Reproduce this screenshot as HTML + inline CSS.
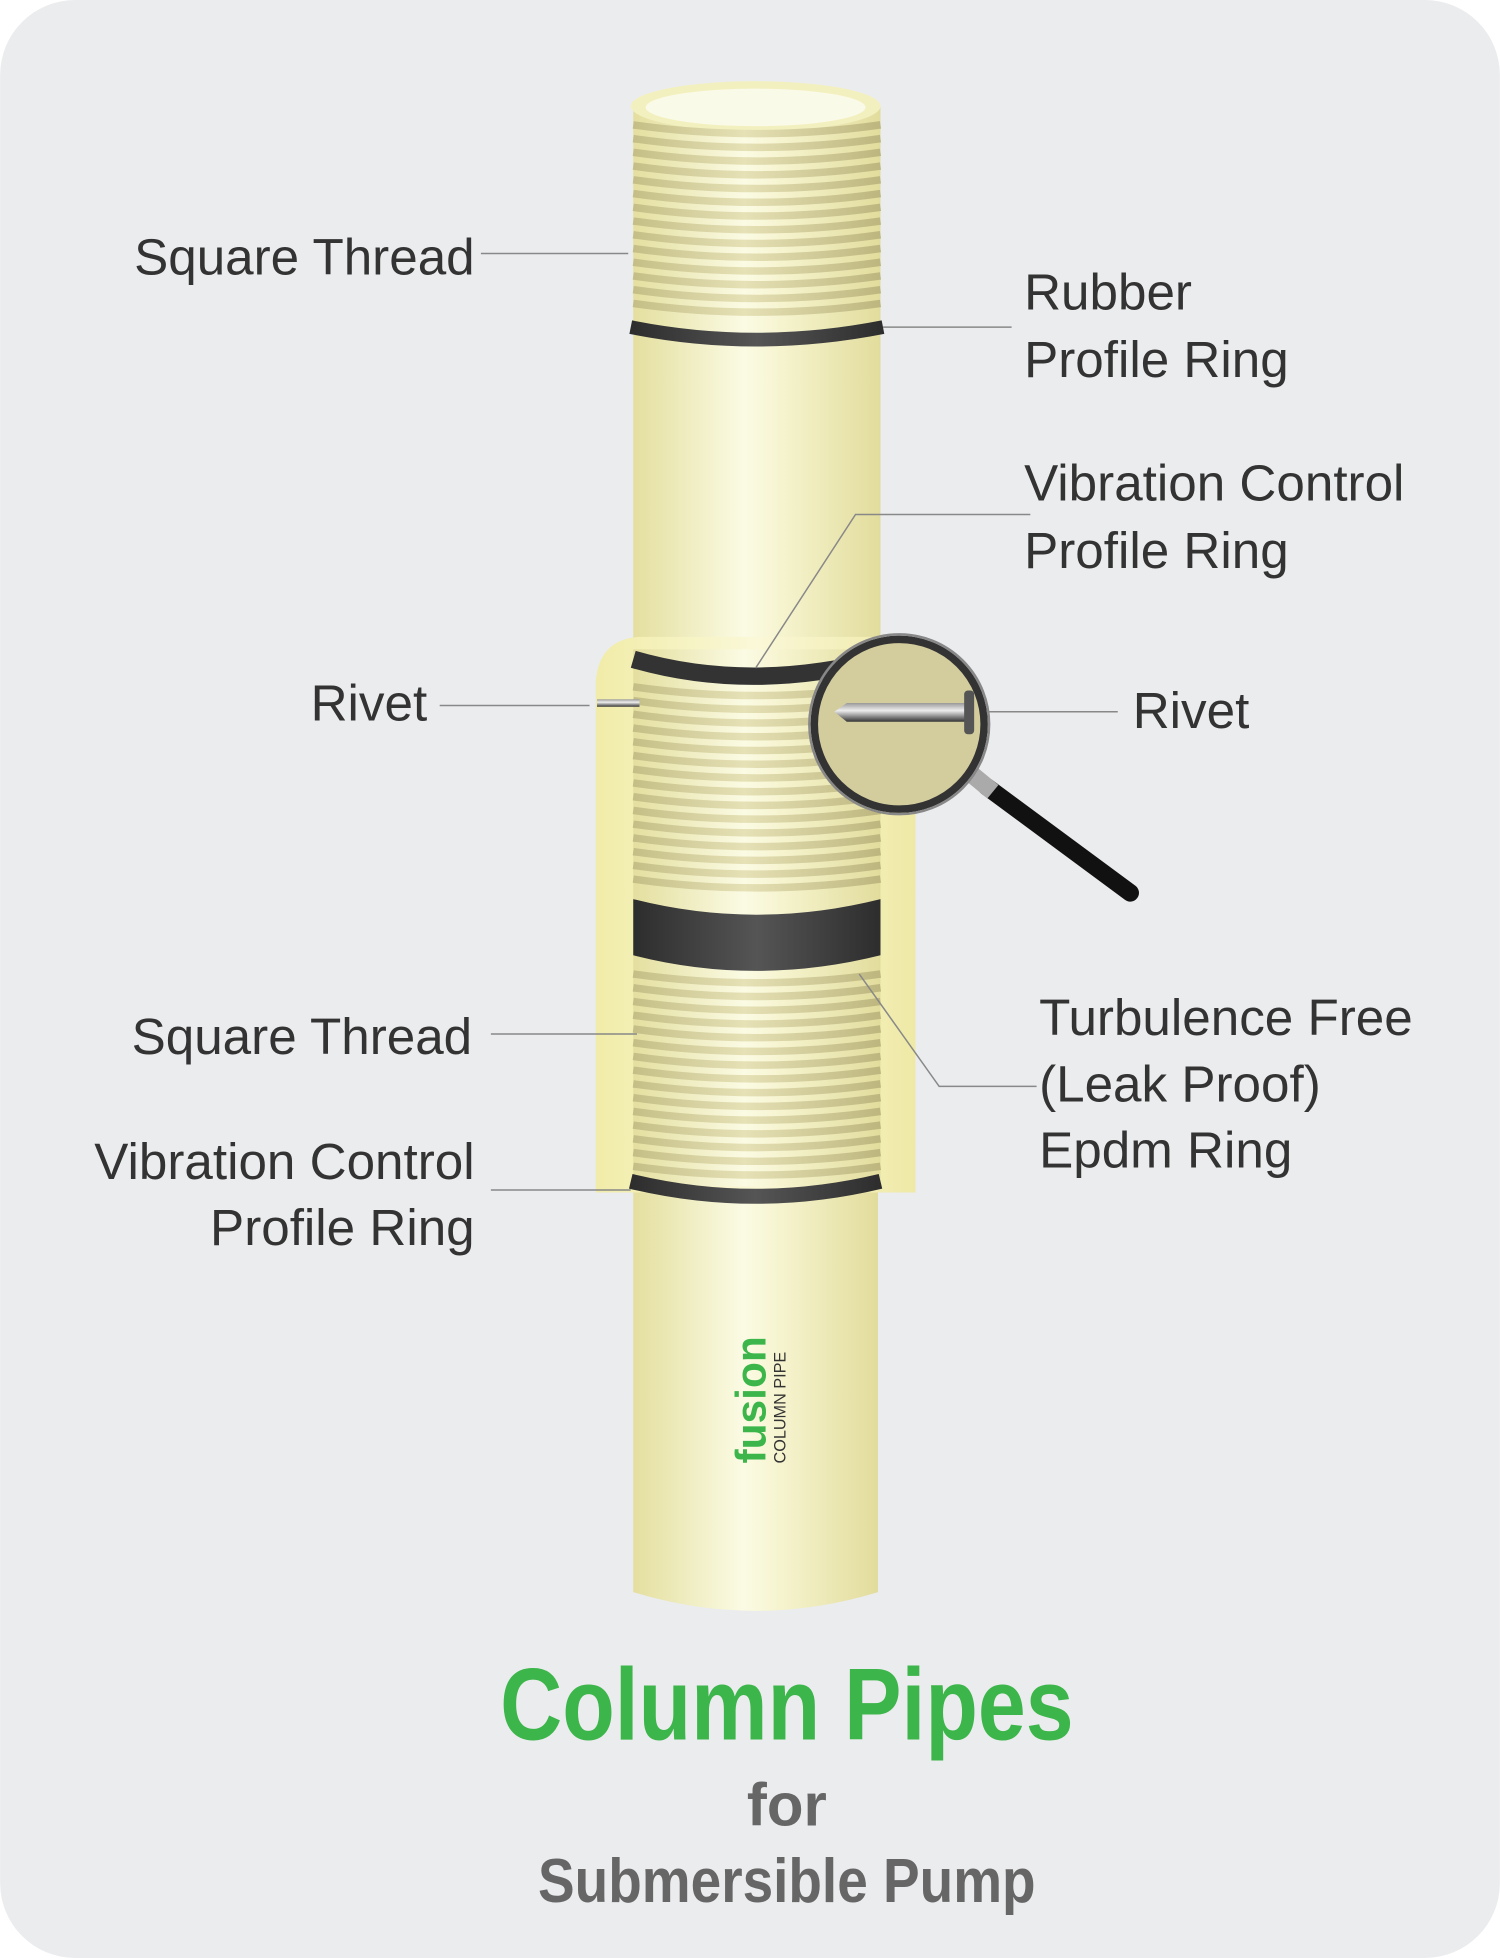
<!DOCTYPE html>
<html><head><meta charset="utf-8"><style>
html,body{margin:0;padding:0;background:#fff;}
svg{display:block}
text{font-family:"Liberation Sans",sans-serif;}
</style></head><body>
<svg width="1500" height="1958" viewBox="0 0 1201 1568" xmlns="http://www.w3.org/2000/svg">
<defs>
<linearGradient id="pipe" x1="0" x2="1" y1="0" y2="0">
<stop offset="0" stop-color="#e4df9f"/><stop offset="0.45" stop-color="#fbfbe4"/><stop offset="0.6" stop-color="#f6f4cf"/><stop offset="1" stop-color="#e2dc9c"/>
</linearGradient>
<linearGradient id="sock" x1="0" x2="1">
<stop offset="0" stop-color="#f1eca8"/><stop offset="0.5" stop-color="#faf8d8"/><stop offset="1" stop-color="#efe9a6"/>
</linearGradient>
<linearGradient id="thr" x1="0" x2="1">
<stop offset="0" stop-color="#c4be86"/><stop offset="0.45" stop-color="#e6e1b6"/><stop offset="1" stop-color="#bdb67e"/>
</linearGradient>
<linearGradient id="blk" x1="0" x2="1">
<stop offset="0" stop-color="#2d2d2d"/><stop offset="0.5" stop-color="#555"/><stop offset="1" stop-color="#2d2d2d"/>
</linearGradient>
<linearGradient id="rivet" x1="0" x2="0" y1="0" y2="1">
<stop offset="0" stop-color="#999"/><stop offset="0.4" stop-color="#eee"/><stop offset="1" stop-color="#333"/>
</linearGradient>
<path id="s" d="M0,0 Q99,14 198,0" stroke="url(#thr)" stroke-width="6" fill="none"/>
</defs>
<rect width="1201" height="1568" fill="#fff"/>
<rect x="0" y="0" width="1201" height="1568" rx="60" fill="#ebecee"/>

<!-- lower pipe -->
<path d="M507,950 L507,1275 Q605,1305 703,1275 L703,950 Z" fill="url(#pipe)"/>
<!-- upper pipe -->
<path d="M507,85 L507,545 L705,545 L705,85 Z" fill="url(#pipe)"/>
<ellipse cx="605" cy="85" rx="100" ry="20" fill="#f3f0c0"/>
<ellipse cx="605" cy="86" rx="88" ry="15" fill="#fafae8"/>
<g>
<use href="#s" x="507" y="100"/><use href="#s" x="507" y="111"/><use href="#s" x="507" y="122"/><use href="#s" x="507" y="133"/><use href="#s" x="507" y="144"/><use href="#s" x="507" y="155"/><use href="#s" x="507" y="166"/><use href="#s" x="507" y="177"/><use href="#s" x="507" y="188"/><use href="#s" x="507" y="199"/><use href="#s" x="507" y="210"/><use href="#s" x="507" y="221"/><use href="#s" x="507" y="232"/><use href="#s" x="507" y="243"/>
</g>
<path d="M505,262 Q605,282 707,262" stroke="url(#blk)" stroke-width="11" fill="none"/>

<!-- socket -->
<path d="M477,955 L477,545 Q480,512 512,510 L733,510 L733,955 Z" fill="url(#sock)"/>
<rect x="507" y="520" width="198" height="430" fill="url(#pipe)"/>
<g>
<use href="#s" x="507" y="550"/><use href="#s" x="507" y="561"/><use href="#s" x="507" y="572"/><use href="#s" x="507" y="583"/><use href="#s" x="507" y="594"/><use href="#s" x="507" y="605"/><use href="#s" x="507" y="616"/><use href="#s" x="507" y="627"/><use href="#s" x="507" y="638"/><use href="#s" x="507" y="649"/><use href="#s" x="507" y="660"/><use href="#s" x="507" y="671"/><use href="#s" x="507" y="682"/><use href="#s" x="507" y="693"/><use href="#s" x="507" y="704"/>
<use href="#s" x="507" y="780"/><use href="#s" x="507" y="791"/><use href="#s" x="507" y="802"/><use href="#s" x="507" y="813"/><use href="#s" x="507" y="824"/><use href="#s" x="507" y="835"/><use href="#s" x="507" y="846"/><use href="#s" x="507" y="857"/><use href="#s" x="507" y="868"/><use href="#s" x="507" y="879"/><use href="#s" x="507" y="890"/><use href="#s" x="507" y="901"/><use href="#s" x="507" y="912"/><use href="#s" x="507" y="923"/><use href="#s" x="507" y="934"/>
</g>
<path d="M507,528 Q600,555 705,528" stroke="#333" stroke-width="14" fill="none"/>
<path d="M507,720 Q605,745 705,720 L705,765 Q605,790 507,765 Z" fill="url(#blk)"/>
<path d="M505,946 Q605,970 705,946" stroke="url(#blk)" stroke-width="12" fill="none"/>

<!-- left rivet -->
<rect x="478" y="560" width="34" height="6" fill="url(#rivet)"/>

<!-- magnifier -->
<line x1="790" y1="630" x2="905" y2="715" stroke="#111" stroke-width="14" stroke-linecap="round"/>
<line x1="778" y1="620" x2="795" y2="634" stroke="#aaa" stroke-width="14"/>
<circle cx="720" cy="580" r="68" fill="#d3cd9e" stroke="#333" stroke-width="6"/>
<circle cx="720" cy="580" r="72" fill="none" stroke="#888" stroke-width="2"/>
<path d="M668,570 L678,563 L775,563 L775,578 L678,578 Z" fill="url(#rivet)"/>
<rect x="772" y="553" width="8" height="35" rx="3" fill="#555"/>

<!-- leader lines -->
<g stroke="#888" stroke-width="1.2" fill="none">
<line x1="385" y1="203" x2="503" y2="203"/>
<line x1="707" y1="262" x2="810" y2="262"/>
<polyline points="825,412 685,412 605,535"/>
<line x1="352" y1="565" x2="472" y2="565"/>
<line x1="790" y1="570" x2="895" y2="570"/>
<line x1="393" y1="828" x2="510" y2="828"/>
<polyline points="830,870 752,870 688,780"/>
<line x1="393" y1="953" x2="505" y2="953"/>
</g>

<!-- labels -->
<g fill="#333" font-size="41">
<text x="380" y="220" text-anchor="end">Square Thread</text>
<text x="820" y="248">Rubber</text>
<text x="820" y="302">Profile Ring</text>
<text x="820" y="401">Vibration Control</text>
<text x="820" y="455">Profile Ring</text>
<text x="342" y="577" text-anchor="end">Rivet</text>
<text x="907" y="583">Rivet</text>
<text x="378" y="844" text-anchor="end">Square Thread</text>
<text x="832" y="829">Turbulence Free</text>
<text x="832" y="882">(Leak Proof)</text>
<text x="832" y="935">Epdm Ring</text>
<text x="380" y="944" text-anchor="end">Vibration Control</text>
<text x="380" y="997" text-anchor="end">Profile Ring</text>
</g>

<!-- fusion logo -->
<g transform="translate(613,1172) rotate(-90)">
<text x="0" y="0" font-size="34" font-weight="bold" fill="#3cb54a">fusion</text>
<text x="0" y="16" font-size="13" fill="#333">COLUMN PIPE</text>
</g>

<!-- title -->
<text x="630" y="1393" text-anchor="middle" font-size="82" font-weight="bold" fill="#3cb54a" transform="translate(630,0) scale(0.84,1) translate(-630,0)">Column Pipes</text>
<text x="630" y="1462" text-anchor="middle" font-size="48" font-weight="bold" fill="#666">for</text>
<text x="630" y="1523" text-anchor="middle" font-size="50" font-weight="bold" fill="#666" transform="translate(630,0) scale(0.88,1) translate(-630,0)">Submersible Pump</text>
</svg>
</body></html>
